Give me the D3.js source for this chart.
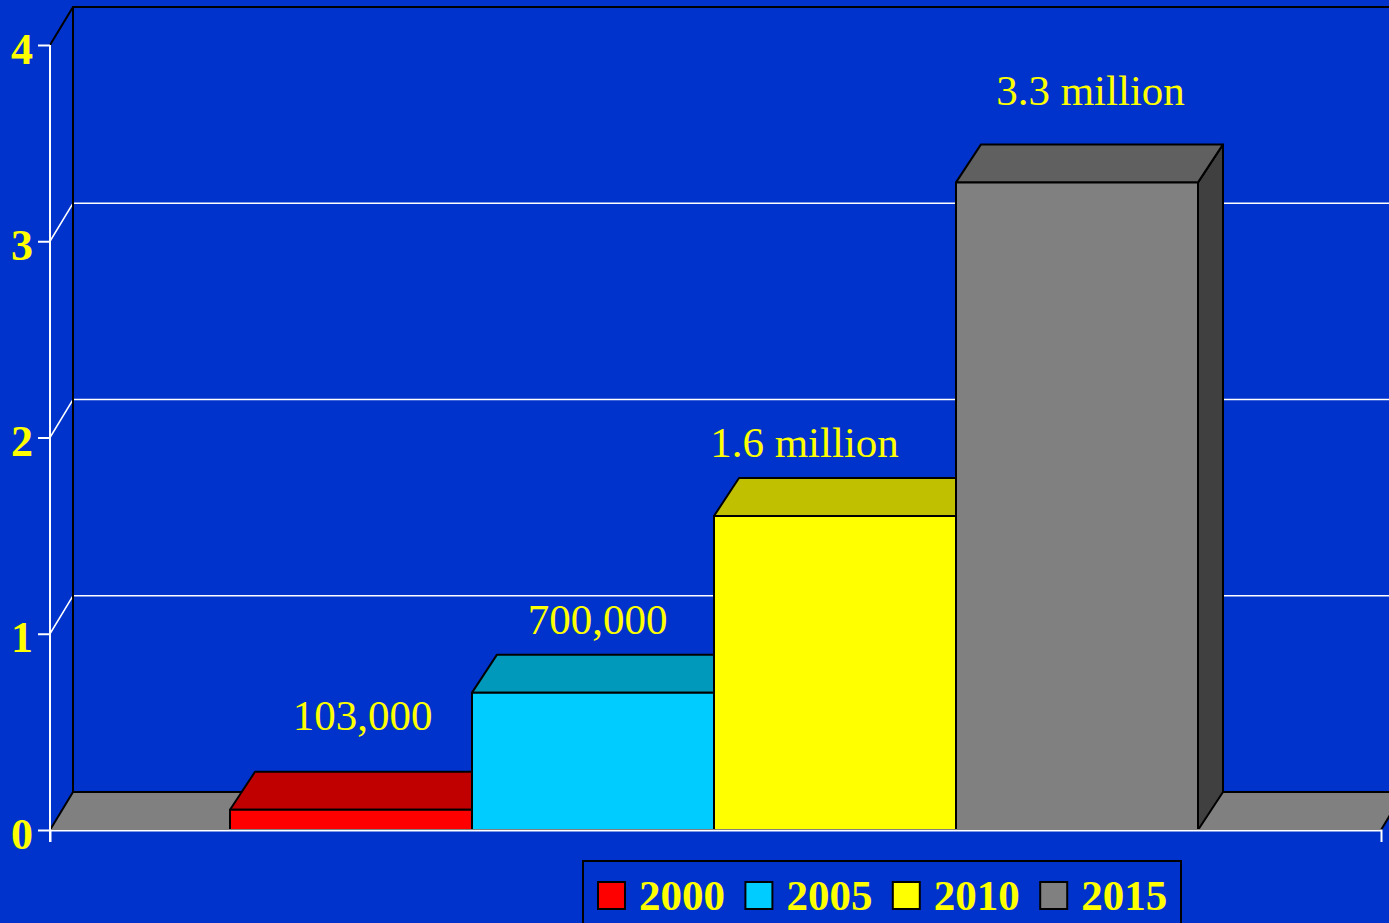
<!DOCTYPE html>
<html>
<head>
<meta charset="utf-8">
<script src="https://cdn.jsdelivr.net/npm/d3@7"></script>
<style>
  html, body { margin: 0; padding: 0; background: #0033cc; }
  svg { display: block; }
</style>
</head>
<body>
<svg id="chart" width="1389" height="923"></svg>
<script>
// Millions of units per year
const years = ["2000", "2005", "2010", "2015"];
const values = [0.103, 0.7, 1.6, 3.3];
const valueLabels = ["103,000", "700,000", "1.6 million", "3.3 million"];
const yTicks = [0, 1, 2, 3, 4];

// Face colours for each bar: front, top, side
const frontColors = ["#ff0000", "#00ccff", "#ffff00", "#808080"];
const topColors = ["#c00000", "#0099bb", "#c0c000", "#606060"];
const sideColors = ["#800000", "#006680", "#808000", "#404040"];

(function () {
  const W = 1389, H = 923;
  const BG = "#0033cc";
  const svg = d3.select("#chart");

  svg.append("rect").attr("width", W).attr("height", H).attr("fill", BG);

  // Plot frame (front plane) and 3D depth offsets
  const plotLeft = 50, plotRight = 1381, plotBottom = 830, plotTop = 45;
  const wall = { dx: 23, dy: -38 };   // depth of the back wall
  const bar = { dx: 25, dy: -38 };    // depth of the bars

  const y = d3.scaleLinear().domain([0, 4]).range([plotBottom, plotTop]);
  const x = d3.scaleBand().domain(years).range([plotLeft - 1.5, plotRight - 1.5])
    .paddingInner(0).paddingOuter(0.75);

  // Gridlines on the back wall, with their diagonal on the side wall
  const grid = svg.append("g");
  yTicks.filter(v => v > 0 && v < 4).forEach(v => {
    grid.append("path")
      .attr("d", `M${plotLeft},${y(v)}L${plotLeft + wall.dx},${y(v) + wall.dy}H${W + 10}`)
      .attr("fill", "none").attr("stroke", "#ffffff").attr("stroke-width", 1.5);
  });

  // Back wall edges
  svg.append("path")
    .attr("d", `M${plotLeft},${y(4)}L${plotLeft + wall.dx},${y(4) + wall.dy}H${W + 10}` +
               `M${plotLeft + wall.dx},${y(4) + wall.dy}V${y(0) + wall.dy}`)
    .attr("fill", "none").attr("stroke", "#000").attr("stroke-width", 2);

  // Floor
  svg.append("path")
    .attr("d", `M${plotLeft},${y(0)}H${plotRight}L${plotRight + wall.dx},${y(0) + wall.dy}` +
               `H${plotLeft + wall.dx}Z`)
    .attr("fill", "#808080").attr("stroke", "#000").attr("stroke-width", 2)
    .attr("stroke-linejoin", "round");

  // 3D bars, drawn left to right so each front covers its neighbour's side
  const bars = svg.append("g");
  years.forEach((yr, i) => {
    const x0 = x(yr), x1 = x(yr) + x.bandwidth();
    const yt = y(values[i]), yb = y(0);
    const g = bars.append("g").attr("stroke", "#000").attr("stroke-width", 2)
      .attr("stroke-linejoin", "round");
    g.append("path")
      .attr("d", `M${x1},${yb}L${x1 + bar.dx},${yb + bar.dy}V${yt + bar.dy}L${x1},${yt}Z`)
      .attr("fill", sideColors[i]);
    g.append("path")
      .attr("d", `M${x0},${yt}L${x0 + bar.dx},${yt + bar.dy}H${x1 + bar.dx}L${x1},${yt}Z`)
      .attr("fill", topColors[i]);
    g.append("rect")
      .attr("x", x0).attr("y", yt).attr("width", x1 - x0).attr("height", yb - yt)
      .attr("fill", frontColors[i]);
  });

  // Axes
  const yAxis = d3.axisLeft(y).tickValues(yTicks).tickFormat(d3.format("d"))
    .tickSize(12).tickSizeOuter(0).tickPadding(5);
  const gy = svg.append("g").attr("transform", `translate(${plotLeft},0)`).call(yAxis);
  gy.select(".domain").remove();
  gy.selectAll(".tick line").attr("stroke", "#fff").attr("stroke-width", 2);
  gy.selectAll(".tick text")
    .attr("fill", "#ffff00").attr("font-family", "'Liberation Serif', 'Times New Roman', serif")
    .attr("font-weight", "bold").attr("font-size", 44)
    .attr("dy", 18);

  const xLine = d3.scaleLinear().domain([0, 1]).range([plotLeft, plotRight]);
  const xAxis = d3.axisBottom(xLine).tickValues([]).tickSizeOuter(12);
  const gx = svg.append("g").attr("transform", `translate(0,${plotBottom})`).call(xAxis);
  gx.select(".domain").attr("stroke", "#fff").attr("stroke-width", 2);

  // Front vertical axis line (runs from the top tick to below the baseline)
  svg.append("line")
    .attr("x1", plotLeft).attr("x2", plotLeft).attr("y1", y(4)).attr("y2", plotBottom + 12)
    .attr("stroke", "#fff").attr("stroke-width", 2);

  // Value labels above each bar's top face
  const labelNudge = [[-1, -21], [-8, 0], [-43, 0], [1, -18]];
  svg.append("g").selectAll("text").data(valueLabels).join("text")
    .attr("x", (d, i) => x(years[i]) + x.bandwidth() / 2 + bar.dx / 2 + labelNudge[i][0])
    .attr("y", (d, i) => y(values[i]) + bar.dy - 21 + labelNudge[i][1])
    .attr("text-anchor", "middle")
    .attr("fill", "#ffff00")
    .attr("font-family", "'Liberation Serif', 'Times New Roman', serif")
    .attr("font-size", 43)
    .text(d => d);

  // Legend
  const lg = svg.append("g").attr("transform", "translate(583,861)");
  lg.append("rect").attr("x", 0).attr("y", 0).attr("width", 598).attr("height", 80)
    .attr("fill", BG).attr("stroke", "#000").attr("stroke-width", 2);
  const step = 147.4;
  const items = lg.selectAll("g.item").data(years).join("g")
    .attr("class", "item")
    .attr("transform", (d, i) => `translate(${15 + i * step},0)`);
  items.append("rect")
    .attr("x", 0).attr("y", 21).attr("width", 27).attr("height", 27)
    .attr("fill", (d, i) => frontColors[i]).attr("stroke", "#000").attr("stroke-width", 2);
  items.append("text")
    .attr("x", 41).attr("y", 49)
    .attr("fill", "#ffff00")
    .attr("font-family", "'Liberation Serif', 'Times New Roman', serif")
    .attr("font-weight", "bold").attr("font-size", 43)
    .text(d => d);
})();
</script>
</body>
</html>
